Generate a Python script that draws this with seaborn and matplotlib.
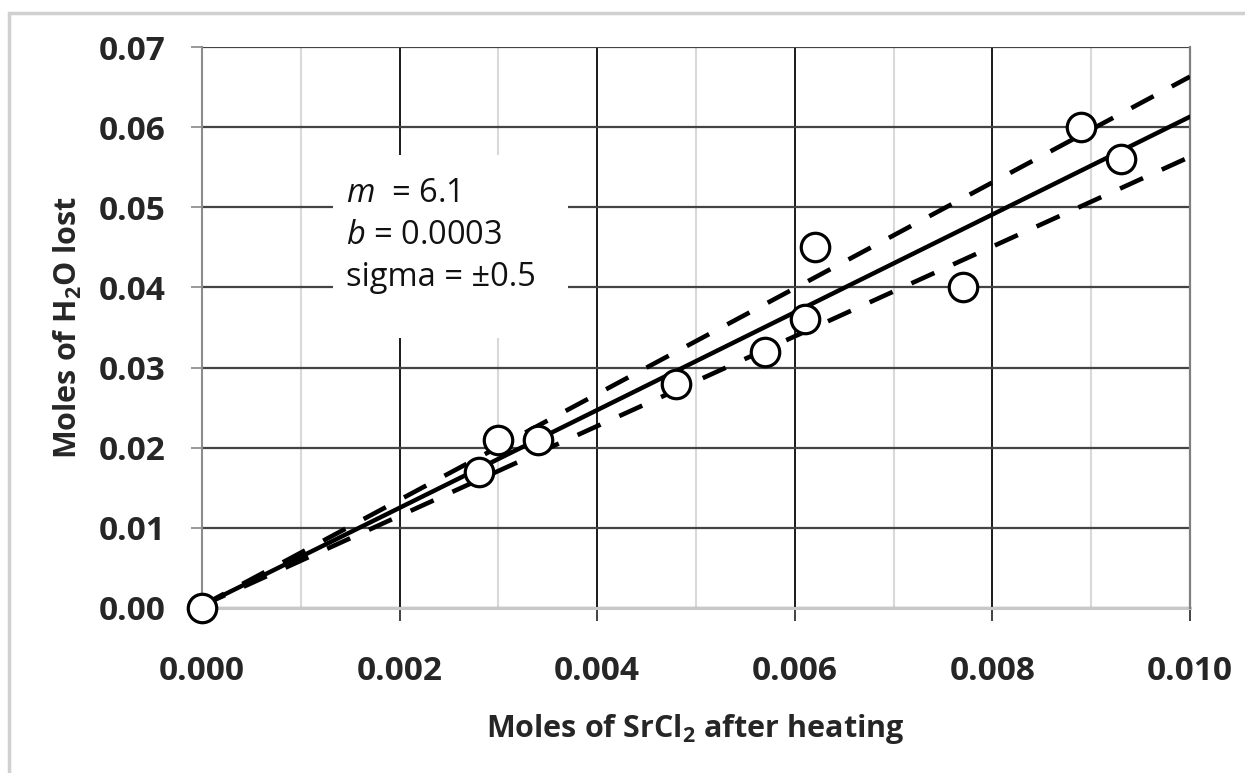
import numpy as np
import pandas as pd
import seaborn as sns
import matplotlib.pyplot as plt
from matplotlib.patches import Rectangle
from matplotlib.ticker import MultipleLocator

# dados
moles_srcl2 = [0.0, 0.0028, 0.0030, 0.0034, 0.0048, 0.0057, 0.0061, 0.0062, 0.0077, 0.0089, 0.0093]
moles_h2o = [0.0, 0.017, 0.021, 0.021, 0.028, 0.032, 0.036, 0.045, 0.040, 0.060, 0.056]

# extremos das retas (ajuste e +/- sigma)
reta_x = [0.0, 0.010]
reta_ajuste = [0.0003, 0.0613]
reta_sup = [0.0003, 0.0663]
reta_inf = [0.0003, 0.0563]

x_ticks = [0.000, 0.002, 0.004, 0.006, 0.008, 0.010]
x_tick_labels = ['0.000', '0.002', '0.004', '0.006', '0.008', '0.010']
y_ticks = [0.00, 0.01, 0.02, 0.03, 0.04, 0.05, 0.06, 0.07]
y_tick_labels = ['0.00', '0.01', '0.02', '0.03', '0.04', '0.05', '0.06', '0.07']

texto = ['$m$  = 6.1', '$b$ = 0.0003', 'sigma = \u00b10.5']

df = pd.DataFrame({'x': moles_srcl2, 'y': moles_h2o})
df_retas = pd.DataFrame({'x': reta_x, 'ajuste': reta_ajuste, 'sup': reta_sup, 'inf': reta_inf})

sns.set_theme(style='white')
plt.rcParams['font.family'] = ['Open Sans', 'DejaVu Sans']
plt.rcParams['mathtext.fontset'] = 'custom'
plt.rcParams['mathtext.rm'] = 'Open Sans'
plt.rcParams['mathtext.it'] = 'Open Sans:italic'
plt.rcParams['mathtext.bf'] = 'Open Sans:bold'

fig = plt.figure(figsize=(12.45, 7.73), dpi=100)
ax = fig.add_axes([202/1245, 1-608/773, 988/1245, 561/773])

# moldura externa cinza
fig.patches.append(Rectangle((9/1245, -0.05), 1.2, 1-13/773+0.05, transform=fig.transFigure,
                             fill=False, edgecolor='#d0d0d0', linewidth=2.5, zorder=0))

ax.set_xlim(0, 0.010)
ax.set_ylim(0, 0.07)

# grade
ax.xaxis.set_minor_locator(MultipleLocator(0.001))
ax.grid(which='minor', axis='x', color='#d9d9d9', linewidth=1.5, zorder=0)
ax.grid(which='major', axis='x', color='#1a1a1a', linewidth=1.4, zorder=0)
ax.grid(which='major', axis='y', color='#444444', linewidth=1.6, zorder=0)

sns.lineplot(data=df_retas, x='x', y='sup', color='black', linewidth=3.3, ax=ax,
             zorder=3).lines[-1].set_dashes((5.5, 4.5))
sns.lineplot(data=df_retas, x='x', y='inf', color='black', linewidth=3.3, ax=ax,
             zorder=3).lines[-1].set_dashes((5.5, 4.5))
sns.lineplot(data=df_retas, x='x', y='ajuste', color='black', linewidth=3.2, ax=ax, zorder=4)

sns.scatterplot(data=df, x='x', y='y', s=420, color='white', edgecolor='black',
                linewidth=2.3, ax=ax, zorder=5, clip_on=False)

# caixa de texto
ax.add_patch(Rectangle(((333-202)/988, (608-338)/561), (568-333)/988, (338-155)/561,
                       transform=ax.transAxes, facecolor='white', edgecolor='none', zorder=2))
for i, linha in enumerate(texto):
    ax.text((346-202)/988, (608-194-42*i)/561, linha, transform=ax.transAxes,
            fontsize=23.5, va='center', ha='left', color='#111111', zorder=6)

ax.spines['top'].set_visible(False)
ax.spines['right'].set_color('#808080')
ax.spines['right'].set_linewidth(1.6)
ax.spines['left'].set_color('#8c8c8c')
ax.spines['left'].set_linewidth(1.5)
ax.spines['bottom'].set_color('#c8c8c8')
ax.spines['bottom'].set_linewidth(2.2)
ax.spines['bottom'].set_zorder(1)

ax.set_xticks(x_ticks)
ax.set_xticklabels(x_tick_labels)
ax.set_yticks(y_ticks)
ax.set_yticklabels(y_tick_labels)
ax.tick_params(axis='x', which='major', direction='out', length=9, width=1.2, color='#222222',
               pad=25, labelsize=24, bottom=True)
ax.tick_params(axis='x', which='minor', length=0)
ax.tick_params(axis='y', direction='out', length=8, width=1.4, color='#999999',
               pad=18, labelsize=24, left=True)
for lab in ax.get_xticklabels() + ax.get_yticklabels():
    lab.set_fontweight('bold')

ax.set_xlabel(r'Moles of SrCl$_\mathbf{2}$ after heating', fontsize=22, fontweight='bold')
ax.set_ylabel(r'Moles of H$_\mathbf{2}$O lost', fontsize=22, fontweight='bold')
ax.xaxis.set_label_coords((695-202)/988, (608-712)/561)
ax.yaxis.set_label_coords((84-202)/988, 0.5)

fig.savefig('out.png', dpi=100)
